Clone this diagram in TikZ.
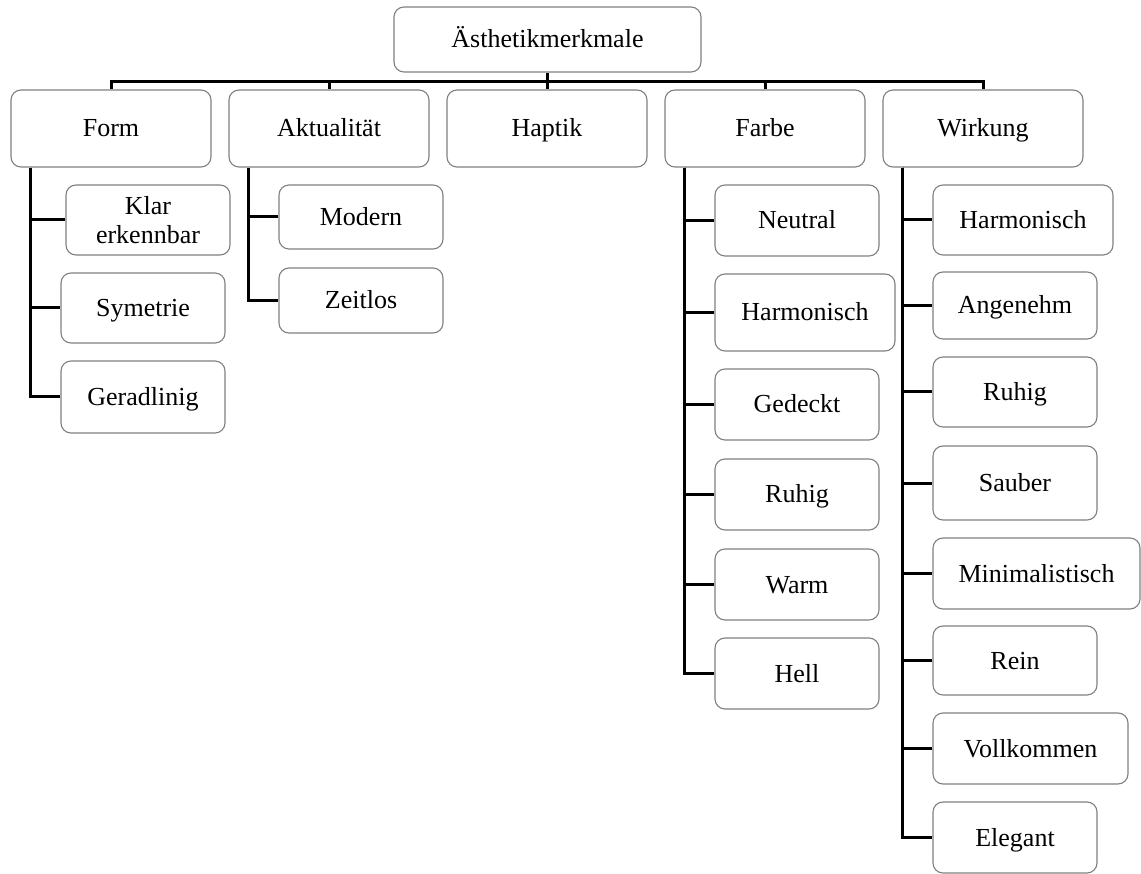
\documentclass[tikz,border=0pt]{standalone}
\usepackage{fontspec}
\setmainfont{Liberation Serif}
% \bx[options]{name}{left}{top}{right}{bottom}{label}
\newcommand\bx[7][]{%
  \node[box, minimum width={#5-#3}, minimum height={#6-#4}, #1] (#2)
    at ({(#3+#5)/2},{(#4+#6)/2}) {#7};}
\begin{document}
\begin{tikzpicture}[x=1pt,y=-1pt,
  box/.style={draw=black!50, line width=1.1pt, rounded corners=10pt,
    inner sep=0pt, align=center, text height=17pt, text depth=0pt,
    font=\fontsize{26}{29}\selectfont},
  conn/.style={draw=black, line width=3pt, line join=miter}]
\useasboundingbox (0,0) rectangle (1141,874);

% root and first level
\bx{root}{394}{7}{701}{72}{Ästhetikmerkmale}
\bx{form}{11}{90}{211}{167}{Form}
\bx{akt}{229}{90}{429}{167}{Aktualität}
\bx{hap}{447}{90}{647}{167}{Haptik}
\bx{farbe}{665}{90}{865}{167}{Farbe}
\bx{wirk}{883}{90}{1083}{167}{Wirkung}

% Form
\bx[text height={}, text depth={}]{klar}{66}{185}{230}{255}{Klar\\erkennbar}
\bx{sym}{61}{273}{225}{343}{Symetrie}
\bx{ger}{61}{361}{225}{433}{Geradlinig}

% Aktualität
\bx{mod}{279}{185}{443}{249}{Modern}
\bx{zeit}{279}{268}{443}{333}{Zeitlos}

% Farbe
\bx{neu}{715}{185}{879}{256}{Neutral}
\bx{fharm}{715}{274}{895}{351}{Harmonisch}
\bx{ged}{715}{369}{879}{440}{Gedeckt}
\bx{fruh}{715}{459}{879}{530}{Ruhig}
\bx{warm}{715}{549}{879}{620}{Warm}
\bx{hell}{715}{638}{879}{709}{Hell}

% Wirkung
\bx{wharm}{933}{185}{1113}{255}{Harmonisch}
\bx{ang}{933}{272}{1097}{339}{Angenehm}
\bx{wruh}{933}{357}{1097}{427}{Ruhig}
\bx{sau}{933}{446}{1097}{520}{Sauber}
\bx{min}{933}{538}{1140}{609}{Minimalistisch}
\bx{rein}{933}{626}{1097}{695}{Rein}
\bx{voll}{933}{713}{1128}{784}{Vollkommen}
\bx{ele}{933}{802}{1097}{873}{Elegant}

% bus from the root to the first level
\coordinate (bus) at (547.5,81.5);
\draw[conn] (root.south) -- (bus);
\foreach \n in {form,akt,hap,farbe,wirk}
  \draw[conn] (bus) -| (\n.north);

% branches to the second level
\foreach \c in {klar,sym,ger}
  \draw[conn] ([xshift=20.5pt]form.south west) |- (\c.west);
\foreach \c in {mod,zeit}
  \draw[conn] ([xshift=20pt]akt.south west) |- (\c.west);
\foreach \c in {neu,fharm,ged,fruh,warm,hell}
  \draw[conn] ([xshift=20pt]farbe.south west) |- (\c.west);
\foreach \c in {wharm,ang,wruh,sau,min,rein,voll,ele}
  \draw[conn] ([xshift=20pt]wirk.south west) |- (\c.west);
\end{tikzpicture}
\end{document}
